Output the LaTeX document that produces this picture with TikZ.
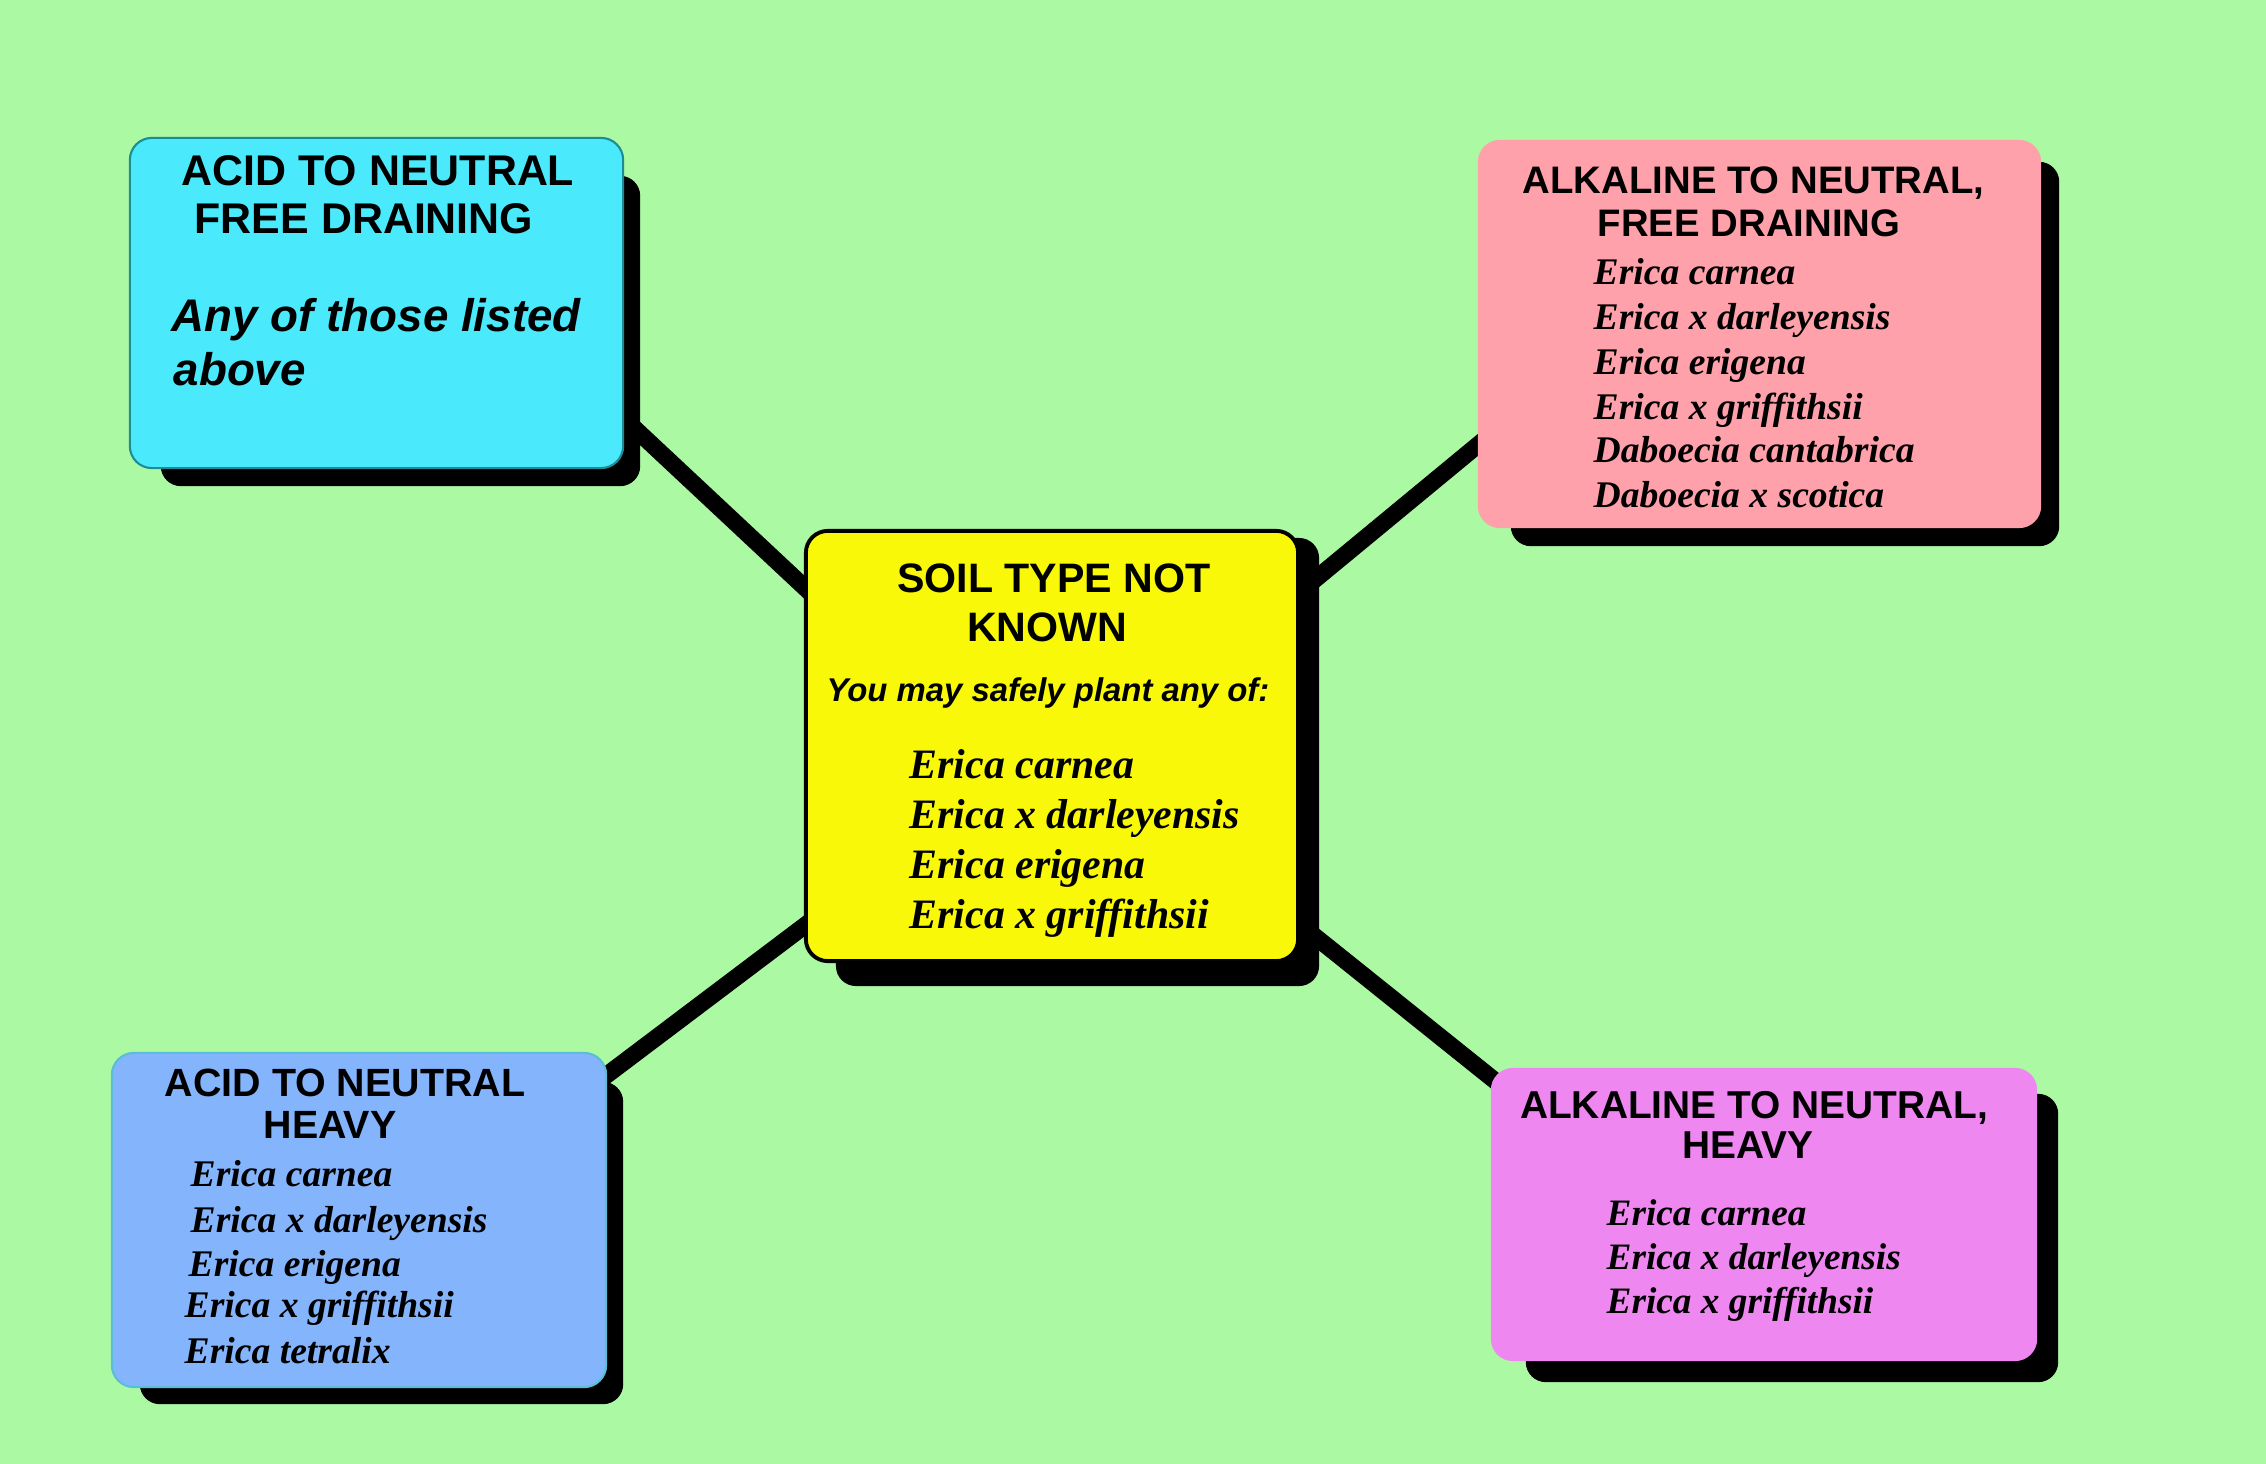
\documentclass[tikz,border=0pt]{standalone}
\usepackage{fontspec}
\setmainfont{Liberation Serif}
\setsansfont{Liberation Sans}
\usetikzlibrary{calc}
\pgfdeclarelayer{bglayer}
\pgfdeclarelayer{linelayer}
\pgfdeclarelayer{shadowlayer}
\pgfsetlayers{bglayer,linelayer,shadowlayer,main}
\definecolor{bggreen}{RGB}{172,249,164}
\definecolor{cyanbox}{RGB}{74,234,252}
\definecolor{yellowbox}{RGB}{248,248,8}
\definecolor{pinkbox}{RGB}{255,161,170}
\definecolor{bluebox}{RGB}{132,180,252}
\definecolor{magbox}{RGB}{238,136,240}
\definecolor{tealedge}{RGB}{30,140,150}
\definecolor{blueedge}{RGB}{90,190,215}
\begin{document}
\begin{tikzpicture}[x=0.01cm,y=-0.01cm,
  box/.style={rounded corners=0.22cm, inner sep=0, line width=0.6pt},
  shadowfill/.style={fill=black, rounded corners=0.2cm},
  hdr/.style={font=\sffamily\bfseries\fontsize{#1}{#1}\selectfont, inner sep=0, anchor=base},
  note/.style={font=\sffamily\bfseries\itshape\fontsize{#1}{#1}\selectfont, inner sep=0, anchor=base west},
  plant/.style={font=\rmfamily\bfseries\itshape\fontsize{#1}{#1}\selectfont, inner sep=0, anchor=base west},
  link/.style={line width=0.17cm, black}]

\useasboundingbox (0,0) rectangle (2266,1464);
\begin{pgfonlayer}{bglayer}
  \fill[bggreen] (0,0) rectangle (2266,1464);
\end{pgfonlayer}

% boxes
\node[box, fill=cyanbox, draw=tealedge, minimum width=4.93cm, minimum height=3.30cm] (acidfree) at (376.5,303) {};
\node[box, fill=yellowbox, draw=black, line width=1.1pt, minimum width=4.92cm, minimum height=4.30cm] (soil) at (1052,746) {};
\node[box, fill=pinkbox, draw=none, minimum width=5.63cm, minimum height=3.88cm] (alkfree) at (1759.5,334) {};
\node[box, fill=bluebox, draw=blueedge, minimum width=4.94cm, minimum height=3.34cm] (acidheavy) at (359,1220) {};
\node[box, fill=magbox, draw=none, minimum width=5.46cm, minimum height=2.93cm] (alkheavy) at (1764,1214.5) {};

% shadows
\begin{pgfonlayer}{shadowlayer}
  \fill[shadowfill] ($(acidfree.north west)+(32,39)$) rectangle ($(acidfree.south east)+(16,17)$);
  \fill[shadowfill] ($(soil.north west)+(32,9)$) rectangle ($(soil.south east)+(19,23)$);
  \fill[shadowfill] ($(alkfree.north west)+(34,23)$) rectangle ($(alkfree.south east)+(17,17)$);
  \fill[shadowfill] ($(acidheavy.north west)+(29,30)$) rectangle ($(acidheavy.south east)+(16,16)$);
  \fill[shadowfill] ($(alkheavy.north west)+(36,27)$) rectangle ($(alkheavy.south east)+(20,20)$);
\end{pgfonlayer}

% connectors
\begin{pgfonlayer}{linelayer}
  \draw[link] ($(acidfree.south east)+(-23,-72)$) -- ($(soil.north west)+(44,99)$);
  \draw[link] ($(alkfree.south west)+(42,-118)$) -- ($(soil.north east)+(-28,86)$);
  \draw[link] ($(acidheavy.north east)+(-36,50)$) -- ($(soil.south west)+(44,-70)$);
  \draw[link] ($(soil.south east)+(-28,-61)$) -- ($(alkheavy.north west)+(49,49)$);
\end{pgfonlayer}

% acid to neutral, free draining
\node[hdr=12.2pt] (afa) at (378,186) {ACID TO NEUTRAL};
\node[hdr=12.2pt] (afb) at (364,234) {FREE DRAINING};
\node[note=13pt] (afc) at (171,332) {Any of those listed};
\node[note=13pt] (afd) at (173,386) {above};

% soil type not known
\node[hdr=11.7pt] (sa) at (1054,593) {SOIL TYPE NOT};
\node[hdr=11.7pt] (sb) at (1047,641) {KNOWN};
\node[note=9.35pt, anchor=base] (sc) at (1048,702) {You may safely plant any of:};
\node[plant=11.9pt] (s1) at (909,778) {Erica carnea};
\node[plant=11.9pt] (s2) at (909,828) {Erica x darleyensis};
\node[plant=11.9pt] (s3) at (909,878) {Erica erigena};
\node[plant=11.9pt] (s4) at (909,928) {Erica x griffithsii};

% alkaline to neutral, free draining
\node[hdr=10.9pt] (kfa) at (1753.5,194) {ALKALINE TO NEUTRAL,};
\node[hdr=10.9pt] (kfb) at (1749,237) {FREE DRAINING};
\node[plant=10.7pt] (k1) at (1593,285) {Erica carnea};
\node[plant=10.7pt] (k2) at (1593,330) {Erica x darleyensis};
\node[plant=10.7pt] (k3) at (1593,375) {Erica erigena};
\node[plant=10.7pt] (k4) at (1593,420) {Erica x griffithsii};
\node[plant=10.7pt] (k5) at (1593,463) {Daboecia cantabrica};
\node[plant=10.7pt] (k6) at (1593,508) {Daboecia x scotica};

% acid to neutral, heavy
\node[hdr=11.2pt] (aha) at (345,1096) {ACID TO NEUTRAL};
\node[hdr=11.2pt] (ahb) at (330,1138) {HEAVY};
\node[plant=10.7pt] (a1) at (190,1186) {Erica carnea};
\node[plant=10.7pt] (a2) at (190,1232) {Erica x darleyensis};
\node[plant=10.7pt] (a3) at (188,1276) {Erica erigena};
\node[plant=10.7pt] (a4) at (184,1317) {Erica x griffithsii};
\node[plant=10.7pt] (a5) at (184,1363) {Erica tetralix};

% alkaline to neutral, heavy
\node[hdr=11.05pt] (kha) at (1754,1118) {ALKALINE TO NEUTRAL,};
\node[hdr=11.05pt] (khb) at (1748,1158) {HEAVY};
\node[plant=10.6pt] (h1) at (1606,1225) {Erica carnea};
\node[plant=10.6pt] (h2) at (1606,1269) {Erica x darleyensis};
\node[plant=10.6pt] (h3) at (1606,1313) {Erica x griffithsii};
\end{tikzpicture}
\end{document}
